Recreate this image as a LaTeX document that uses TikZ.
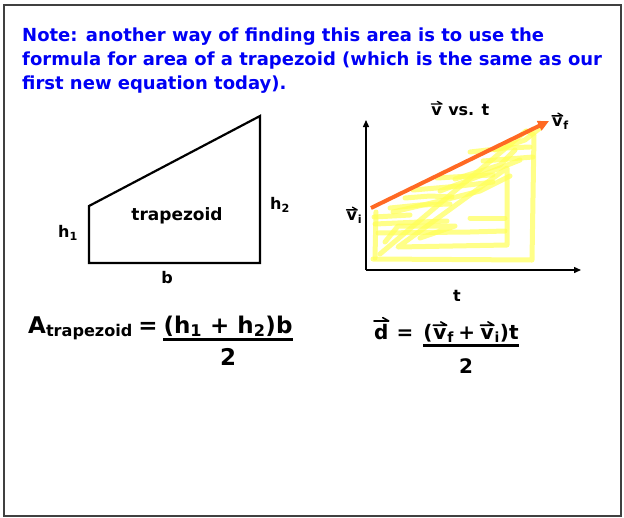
\documentclass[tikz,border=0pt]{standalone}
\usepackage{fontspec}
\setmainfont{DejaVu Sans}
\usepackage{tikz}
\usetikzlibrary{arrows.meta}
\definecolor{noteblue}{RGB}{0,0,245}
\definecolor{hilite}{RGB}{255,255,85}
\definecolor{slope}{RGB}{255,105,35}
\newcommand{\vect}[1]{\tikz[baseline=(vl.base)]{\node[inner sep=0pt] (vl) {#1};
  \draw[line width=0.08em, line cap=round, line join=round]
    ([yshift=0.13em]vl.north west) -- ([yshift=0.13em]vl.north east) -- ++(-0.3em,0.17em);}}
\tikzset{
  lbl/.style={inner sep=0pt, font=\fontsize{16}{18}\selectfont\bfseries},
  eqtext/.style={inner sep=0pt, font=\fontsize{23}{26}\selectfont\bfseries},
  eqsmall/.style={inner sep=0pt, font=\fontsize{20}{24}\selectfont\bfseries},
  scribble/.style={hilite, opacity=0.7, line width=5pt, line cap=round, line join=round},
  bar/.style={line width=3pt}
}

\begin{document}
\begin{tikzpicture}[x=1pt,y=-1pt]
    \useasboundingbox (0,0) rectangle (624,517);
    % Frame
    \draw[line width=2.5pt, black!75] (4,5) rectangle (621,516);
    % Note
    \node[anchor=north west, inner sep=0pt, align=left, text=noteblue,
          font=\fontsize{18}{24}\selectfont\bfseries] (note) at (22,28)
      {Note: another way of finding this area is to use the\\
       formula for area of a trapezoid (which is the same as our\\
       first new equation today).};

    % Trapezoid
    \draw[line width=2.2pt] (89,263) -- (89,206) -- (260,116) -- (260,263) -- cycle;
    \node[lbl, font=\fontsize{17}{19}\selectfont\bfseries] (trap) at (177,216) {trapezoid};
    \node[lbl] (h1) at (68,233) {h\textsubscript{1}};
    \node[lbl] (h2) at (280,205) {h\textsubscript{2}};
    \node[lbl] (b) at (167,278) {b};

    % Highlighted area
    \draw[scribble] (373,259) -- (532,260) -- (534,135) -- (527,131);
    \draw[scribble] (376,212) -- (375,258);
    \draw[scribble] (380,254) -- (526,131);
    \draw[scribble] (398,247) -- (507,245) -- (507,168) -- cycle;
    \draw[scribble] (374,217) -- (410,215);
    \draw[scribble] (375,224) -- (420,222) -- (447,221);
    \draw[scribble] (378,233) -- (470,232) -- (505,231);
    \draw[scribble] (385,242) -- (398,226) -- (455,226) -- (420,238);
    \draw[scribble] (390,208) -- (420,205) -- (450,204);
    \draw[scribble] (405,198) -- (430,196) -- (452,197);
    \draw[scribble] (413,190) -- (460,186) -- (493,182);
    \draw[scribble] (437,178) -- (470,176) -- (493,175);
    \draw[scribble] (440,191) -- (490,172) -- (520,160);
    \draw[scribble] (483,161) -- (533,157);
    \draw[scribble] (470,152) -- (505,148) -- (530,147);
    \draw[scribble] (495,150) -- (525,140) -- (540,128);
    \draw[scribble] (470,218) -- (505,218);
    \draw[scribble] (393,212) -- (440,201) -- (480,191) -- (510,176);
    \draw[scribble] (455,179) -- (500,165) -- (515,150);

    % Axes
    \coordinate (origin) at (366,270);
    \coordinate (ytop) at (366,120);
    \coordinate (xend) at (581,270);
    \draw[-{Triangle[length=7pt,width=6pt]}, line width=1.4pt] (origin) -- (ytop);
    \draw[-{Triangle[length=7pt,width=6pt]}, line width=1.4pt] (origin) -- (xend);
    \node[lbl] (title) at (460,108) {\vect{v} vs. t};
    \node[lbl] (taxis) at (457,296) {t};
    \node[lbl] (vi) at (354,215) {\vect{v}\textsubscript{i}};
    \node[lbl] (vf) at (560,121) {\vect{v}\textsubscript{f}};
    % Slope line
    \coordinate (start) at (371,208);
    \draw[-{Triangle[length=11pt,width=10pt]}, slope, line width=4pt] (start) -- ([xshift=-2pt]vf.west);

    % Area of a trapezoid
    \node[eqtext, anchor=base west] (Aterm) at (28,333) {A\textsubscript{trapezoid}};
    \node[eqtext, anchor=base] (eqA) at (148,333) {=};
    \node[eqtext, anchor=base] (numA) at (228,333) {(h\textsubscript{1} + h\textsubscript{2})b};
    \node[eqtext, anchor=base] (denA) at (228,365) {2};
    \draw[bar] ([yshift=-3pt]numA.south west) -- ([yshift=-3pt]numA.south east);

    % Displacement
    \node[eqsmall, anchor=base west] (dterm) at (373,339) {\vect{d}};
    \node[eqsmall, anchor=base] (eqD) at (405,339) {=};
    \node[eqsmall, anchor=base] (numD) at (471,339)
      {(\vect{v}\textsubscript{f}\hspace{0.22em}+\hspace{0.22em}\vect{v}\textsubscript{i})t};
    \node[eqsmall, anchor=base] (denD) at (466,373) {2};
    \draw[bar] ([yshift=-3pt]numD.south west) -- ([yshift=-3pt]numD.south east);
\end{tikzpicture}
\end{document}
